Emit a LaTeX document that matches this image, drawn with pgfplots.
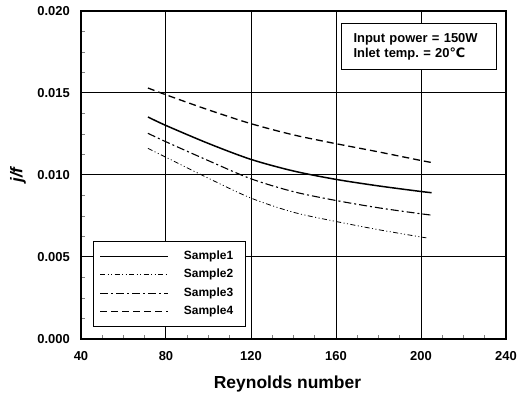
\documentclass[border=0pt]{standalone}
\usepackage{fontspec}
\setmainfont{Liberation Sans}
\newfontfamily\dejavu{DejaVu Sans}
\usepackage{pgfplots}
\pgfplotsset{compat=1.18}
\frenchspacing
\begin{document}
\begin{tikzpicture}
\begin{axis}[
  at={(0,0)}, anchor=south west,
  scale only axis, width=425bp, height=328bp,
  xmin=40, xmax=240, ymin=0, ymax=0.02,
  xtick={40,80,120,160,200,240},
  ytick={0,0.005,0.01,0.015,0.02},
  minor x tick num=3, minor y tick num=3,
  xtick pos=bottom, ytick pos=left,
  tick align=inside,
  major tick length=0pt, minor tick length=4bp,
  minor tick style={line width=0.8bp},
  grid=major, major grid style={black, line width=1bp},
  axis line style={line width=1.5bp},
  scaled y ticks=false,
  /pgf/number format/assume math mode=true,
  yticklabel style={/pgf/number format/fixed, /pgf/number format/fixed zerofill, /pgf/number format/precision=3, xshift=-11bp},
  tick label style={font=\fontsize{13}{15}\selectfont\bfseries, inner sep=0pt},
  xticklabel style={yshift=-12bp},
  xlabel={Reynolds number},
  xlabel style={at={(axis description cs:0.5,0)}, anchor=center, yshift=-45bp, xshift=-6bp, inner sep=0pt, font=\fontsize{17.5}{20}\selectfont\bfseries},
  ylabel={j/f},
  ylabel style={at={(axis description cs:0,0.5)}, anchor=center, yshift=63bp, inner sep=0pt, font=\fontsize{17}{20}\selectfont\bfseries\itshape},
  legend cell align=left,
  legend image code/.code={\draw[#1] (0bp,0bp) -- (68bp,0bp);},
  legend style={at={(axis description cs:0.0282,0.0366)}, anchor=south west,
    draw=black, line width=1bp, fill=white,
    font=\fontsize{12}{14}\selectfont\bfseries,
    inner xsep=6bp, inner ysep=8bp, row sep=4.3bp,
    nodes={inner sep=1bp, text height=9bp, text depth=3bp},
    /tikz/column 1/.style={column sep=14bp},
    /tikz/column 2/.style={text width=55bp}},
]
\addplot[black, line width=1.5bp, smooth] coordinates {
(71.5,0.013537)(80,0.013018)(100,0.011921)(120,0.010951)(140,0.010244)(160,0.009732)(180,0.009335)(200,0.008994)(205,0.008921)};
\addlegendentry{Sample1}
\addplot[black, line width=0.8bp, smooth, dash pattern=on 5bp off 2.5bp on 1bp off 2.5bp on 1bp off 2.5bp] coordinates {
(71.5,0.011628)(80,0.011079)(100,0.009799)(120,0.008591)(140,0.007726)(160,0.007165)(180,0.006665)(200,0.00622)(202.5,0.006171)};
\addlegendentry{Sample2}
\addplot[black, line width=1.1bp, smooth, dash pattern=on 8bp off 3bp on 2bp off 3bp] coordinates {
(71.5,0.012543)(80,0.012024)(100,0.010872)(120,0.009768)(140,0.008982)(160,0.008445)(180,0.008)(200,0.007634)(205,0.007555)};
\addlegendentry{Sample3}
\addplot[black, line width=1.3bp, smooth, dash pattern=on 7bp off 4bp] coordinates {
(71.5,0.015305)(80,0.01489)(100,0.01397)(120,0.013128)(140,0.012445)(160,0.011909)(180,0.011409)(200,0.010884)(205,0.010762)};
\addlegendentry{Sample4}
\node[draw=black, line width=1bp, fill=white, anchor=north west, inner xsep=12bp, inner ysep=0pt,
  minimum width=155bp, minimum height=46bp, text width=131bp, align=left,
  font=\fontsize{13}{15}\selectfont\bfseries]
  at (axis description cs:0.6118,0.9634) {Input power = 150W\\Inlet temp. = 20{\dejavu\bfseries ℃}};
\end{axis}
\pgfresetboundingbox
\path (-81bp,-56bp) rectangle (442bp,339bp);
\end{tikzpicture}
\end{document}
